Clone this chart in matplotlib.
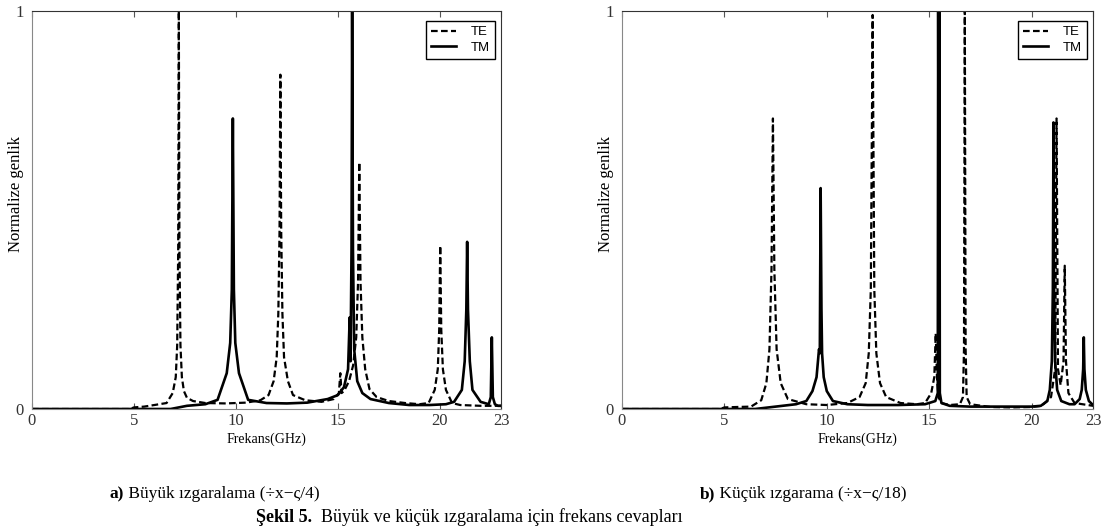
import matplotlib
matplotlib.use("Agg")
import matplotlib.pyplot as plt

# panel a: Büyük ızgaralama - TE (dashed) and TM (solid)
a_te_f = [0, 4.8, 5.0, 5.5, 6.0, 6.6, 6.9, 7.05, 7.12, 7.17, 7.2, 7.23, 7.28, 7.35, 7.45, 7.6,
          7.9, 8.5, 9.5, 10.5, 11.2, 11.6, 11.85, 12.0, 12.08, 12.14, 12.18, 12.22, 12.28, 12.36,
          12.55, 12.8, 13.4, 14.2, 14.8, 15.05, 15.12, 15.18, 15.3, 15.55, 15.75, 15.9, 15.99,
          16.05, 16.11, 16.2, 16.34, 16.55, 16.9, 17.5, 18.3, 19.0, 19.45, 19.75, 19.9, 19.97,
          20.02, 20.07, 20.15, 20.3, 20.6, 21.0, 22.0, 23.0]
a_te_y = [0, 0, 0.004, 0.006, 0.01, 0.015, 0.04, 0.08, 0.16, 0.4, 1.0, 0.4, 0.16, 0.08, 0.045, 0.028,
          0.02, 0.015, 0.014, 0.016, 0.022, 0.035, 0.07, 0.13, 0.24, 0.45, 0.84, 0.45, 0.24, 0.13,
          0.07, 0.035, 0.022, 0.018, 0.025, 0.04, 0.09, 0.04, 0.045, 0.07, 0.11, 0.18, 0.32,
          0.62, 0.32, 0.18, 0.1, 0.05, 0.03, 0.02, 0.015, 0.012, 0.015, 0.048, 0.1, 0.2,
          0.41, 0.2, 0.1, 0.048, 0.015, 0.01, 0.008, 0.008]
a_tm_f = [0, 6.8, 7.6, 8.5, 9.1, 9.55, 9.72, 9.8, 9.85, 9.9, 9.97, 10.15, 10.6, 11.5, 12.5, 13.5,
          14.5, 15.0, 15.3, 15.5, 15.58, 15.62, 15.67, 15.7, 15.74, 15.8, 15.95, 16.2, 16.6,
          17.5, 18.5, 19.5, 20.3, 20.7, 21.08, 21.22, 21.3, 21.34, 21.38, 21.47, 21.6, 22.0,
          22.4, 22.5, 22.55, 22.6, 22.7, 22.85, 23.0]
a_tm_y = [0, 0, 0.008, 0.012, 0.023, 0.09, 0.166, 0.3, 0.73, 0.3, 0.166, 0.09, 0.023, 0.015,
          0.014, 0.016, 0.025, 0.035, 0.055, 0.1, 0.23, 0.12, 0.4, 1.0, 0.4, 0.15, 0.07, 0.04,
          0.025, 0.015, 0.01, 0.01, 0.012, 0.018, 0.048, 0.12, 0.25, 0.42, 0.25, 0.12, 0.048,
          0.018, 0.012, 0.03, 0.18, 0.03, 0.012, 0.008, 0.008]

# panel b: Küçük ızgarama
b_te_f = [0, 4.8, 5.0, 5.6, 6.3, 6.8, 7.05, 7.2, 7.3, 7.37, 7.44, 7.55, 7.75, 8.1, 9.0, 10.0,
          11.0, 11.6, 11.9, 12.05, 12.15, 12.24, 12.32, 12.42, 12.6, 12.9, 13.6, 14.4, 14.8,
          15.1, 15.25, 15.32, 15.38, 15.45, 15.6, 16.0, 16.5, 16.65, 16.7, 16.74, 16.78, 16.83,
          17.0, 18.0, 19.0, 20.0, 20.5, 20.95, 21.15, 21.22, 21.29, 21.42, 21.56, 21.62, 21.68,
          21.8, 22.1, 23.0]
b_te_y = [0, 0, 0.004, 0.005, 0.006, 0.022, 0.065, 0.15, 0.35, 0.73, 0.35, 0.15, 0.065, 0.025,
          0.012, 0.01, 0.015, 0.03, 0.065, 0.14, 0.3, 0.99, 0.3, 0.14, 0.065, 0.03, 0.015,
          0.012, 0.015, 0.04, 0.08, 0.19, 0.08, 0.03, 0.015, 0.01, 0.012, 0.03, 0.15, 1.0,
          0.15, 0.03, 0.012, 0.005, 0.004, 0.005, 0.008, 0.03, 0.1, 0.73, 0.1, 0.06, 0.12, 0.36,
          0.12, 0.04, 0.015, 0.008]
b_tm_f = [0, 6.5, 7.5, 8.5, 9.0, 9.3, 9.5, 9.62, 9.66, 9.7, 9.74, 9.77, 9.85, 10.0, 10.3, 11.0,
          12.0, 13.5, 14.8, 15.3, 15.42, 15.44, 15.47, 15.5, 15.52, 15.6, 16.0, 17.0, 18.5, 20.0,
          20.45, 20.77, 20.89, 20.99, 21.04, 21.07, 21.1, 21.15, 21.25, 21.45, 21.85, 22.1, 22.35,
          22.45, 22.52, 22.55, 22.58, 22.65, 22.8, 23.0]
b_tm_y = [0, 0, 0.006, 0.012, 0.02, 0.045, 0.08, 0.15, 0.14, 0.555, 0.25, 0.14, 0.08, 0.045,
          0.02, 0.012, 0.01, 0.01, 0.012, 0.02, 0.04, 1.0, 0.3, 1.0, 0.04, 0.015, 0.008, 0.006,
          0.006, 0.006, 0.008, 0.02, 0.048, 0.12, 0.3, 0.72, 0.3, 0.12, 0.048, 0.02, 0.012,
          0.012, 0.025, 0.048, 0.1, 0.18, 0.1, 0.048, 0.02, 0.01]

xticks = [0, 5, 10, 15, 20, 23]

serif = "Liberation Serif"
sans = "Liberation Sans"

fig = plt.figure(figsize=(11.06, 5.30), dpi=100)
ax_a = fig.add_axes([32 / 1106, 121 / 530, 469 / 1106, 398 / 530])
ax_b = fig.add_axes([622 / 1106, 121 / 530, 471 / 1106, 398 / 530])

panels = [(ax_a, a_te_f, a_te_y, a_tm_f, a_tm_y),
          (ax_b, b_te_f, b_te_y, b_tm_f, b_tm_y)]

for ax, te_f, te_y, tm_f, tm_y in panels:
    ax.plot(te_f, te_y, color="black", lw=1.6, ls=(0, (3, 1.5)), label="TE")
    ax.plot(tm_f, tm_y, color="black", lw=1.9, label="TM")
    ax.set_xlim(0, 23)
    ax.set_ylim(0, 1)
    ax.set_xticks(xticks)
    ax.set_xticklabels([str(t) for t in xticks], family=serif, fontsize=12, color="#333333")
    ax.set_yticks([0, 1])
    ax.set_yticklabels(["0", "1"], family=serif, fontsize=12, color="#333333")
    ax.tick_params(axis="x", direction="in", length=4, top=True, pad=3, color="#555555")
    ax.tick_params(axis="y", length=0, pad=6)
    for side in ["left", "bottom"]:
        ax.spines[side].set_color("#888888")
    for side in ["top", "right"]:
        ax.spines[side].set_color("#333333")
    ax.set_xlabel("Frekans(GHz)", family=serif, fontsize=10)
    ax.set_ylabel("Normalize genlik", family=serif, fontsize=12)
    ax.xaxis.set_label_coords(0.5, -0.058)
    ax.yaxis.set_label_coords(-0.016, 0.54)
    leg = ax.legend(loc="upper right", bbox_to_anchor=(0.987, 0.975), borderaxespad=0,
                    prop={"family": sans, "size": 9.5}, handlelength=1.9, handletextpad=1.1,
                    labelspacing=0.25, borderpad=0.4, fancybox=False, framealpha=1)
    leg.get_frame().set_edgecolor("black")
    leg.get_frame().set_linewidth(1)

# captions
cap_y1, cap_y2 = 0.068, 0.024
fig.text(124 / 1106, cap_y1, "a)", family=serif, fontsize=12.5, weight="bold", ha="right", va="center")
fig.text(124 / 1106, cap_y1, " Büyük ızgaralama (÷x−ς/4)", family=serif, fontsize=12.5, ha="left", va="center")
fig.text(715 / 1106, cap_y1, "b)", family=serif, fontsize=12.5, weight="bold", ha="right", va="center")
fig.text(715 / 1106, cap_y1, " Küçük ızgarama (÷x−ς/18)", family=serif, fontsize=12.5, ha="left", va="center")
fig.text(312 / 1106, cap_y2, "Şekil 5.", family=serif, fontsize=13, weight="bold", ha="right", va="center")
fig.text(312 / 1106, cap_y2, "  Büyük ve küçük ızgaralama için frekans cevapları", family=serif,
         fontsize=13, ha="left", va="center")

fig.savefig("out.png", dpi=100)
